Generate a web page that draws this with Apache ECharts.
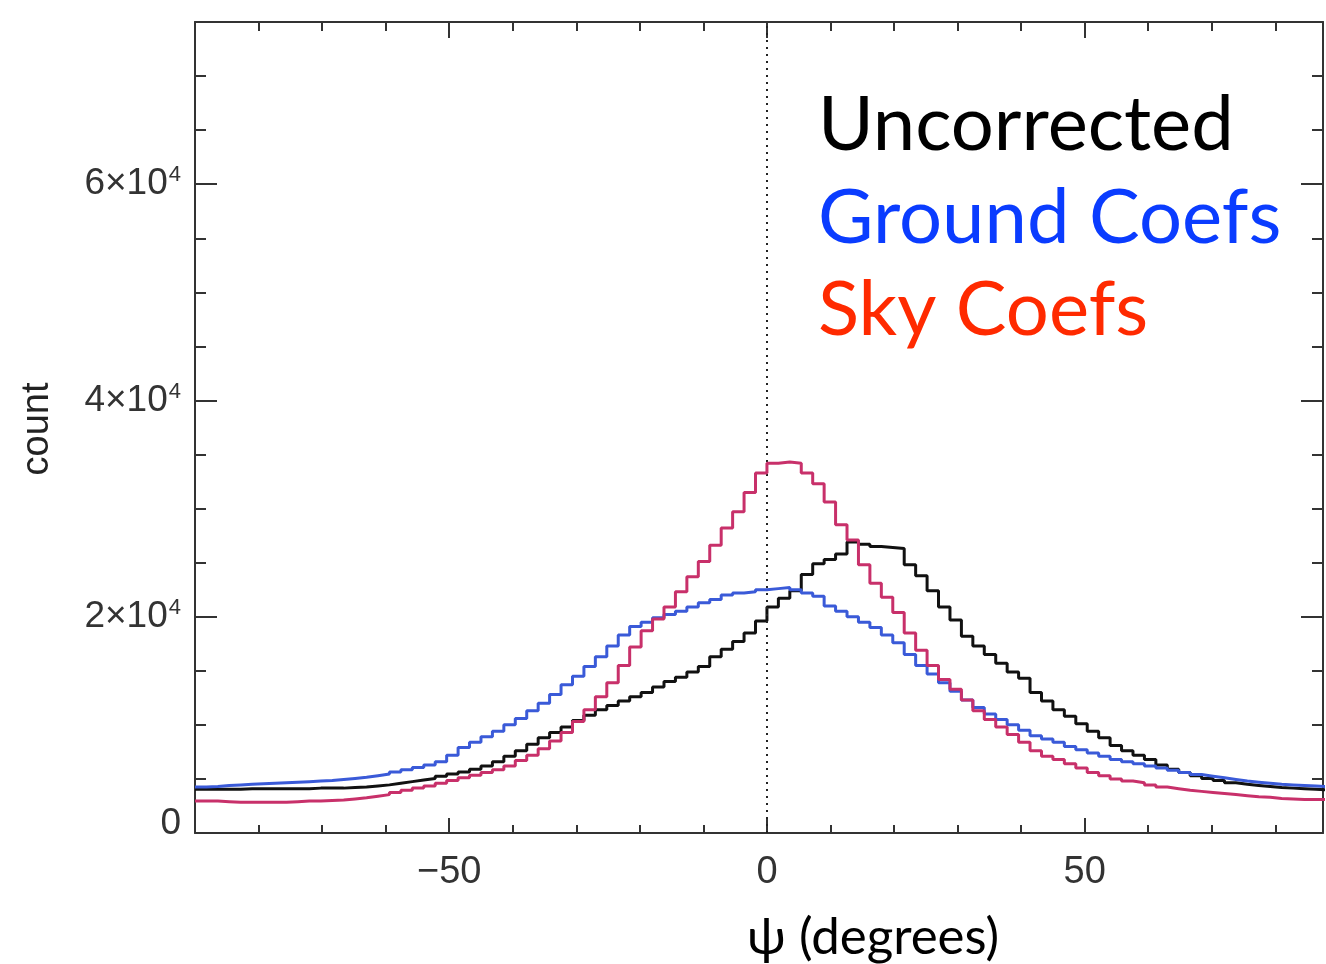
<!DOCTYPE html>
<html>
<head>
<meta charset="utf-8">
<script src="https://cdn.jsdelivr.net/npm/echarts@6/dist/echarts.min.js"></script>
<style>
html,body{margin:0;padding:0;background:#fff;}
#chart{width:1326px;height:964px;}
</style>
</head>
<body>
<div id="chart"></div>
<script>
// Histogram bins: 100 bins of 1.8 degrees from -90 to 90
const binStart = -90;
const binWidth = 1.8;

const uncorrected = [
  4050,4050,4050,4050,4100,4100,4100,4100,4100,4100,
  4150,4150,4150,4200,4250,4350,4450,4600,4750,4900,
  5050,5250,5450,5650,5900,6200,6600,7100,7600,8200,
  8800,9300,9800,10400,10900,11400,11800,12200,12600,13000,
  13500,14000,14400,14900,15400,16300,17000,17700,18500,19600,
  20900,21700,22400,23900,24900,25300,25800,26900,26700,26500,
  26400,26300,24800,23800,22400,20900,19700,18200,17300,16500,
  15700,14900,14300,13000,12200,11400,10800,10100,9400,8800,
  8100,7600,7200,6800,6300,5900,5600,5300,5050,4850,
  4650,4500,4400,4300,4200,4150,4100,4050,4000,4000
];
const groundCoefs = [
  4250,4300,4400,4450,4500,4550,4600,4650,4700,4750,
  4800,4850,4950,5050,5150,5300,5450,5650,5850,6050,
  6300,6600,7200,7900,8400,8900,9400,10000,10600,11300,
  12000,12800,13700,14500,15400,16300,17300,18300,19100,19500,
  19900,20200,20500,20900,21300,21600,22000,22200,22300,22500,
  22600,22700,22500,22200,21900,21000,20500,20000,19500,19000,
  18300,17600,16500,15500,14700,13900,13100,12300,11600,11000,
  10500,10000,9500,9000,8700,8400,8000,7700,7400,7100,
  6800,6600,6400,6200,6000,5800,5600,5400,5250,5100,
  4950,4800,4700,4600,4500,4450,4400,4350,4300,4300
];
const skyCoefs = [
  2950,2950,2900,2850,2850,2850,2850,2850,2900,2950,
  2950,3000,3050,3150,3250,3400,3550,3750,3950,4150,
  4350,4600,4850,5100,5350,5600,5850,6200,6700,7200,
  7800,8500,9300,10300,11400,12600,13900,15500,17200,18700,
  19800,20900,22300,23700,25100,26600,28200,29700,31500,33300,
  34200,34300,34200,33300,32300,30600,28500,27100,24800,23100,
  21800,20400,18500,16900,15500,14200,13300,12300,11300,10500,
  9800,9100,8400,7600,7100,6800,6400,6000,5600,5300,
  5000,4800,4650,4450,4250,4100,3950,3850,3750,3650,
  3550,3450,3350,3300,3200,3150,3100,3100,3100,3100
];

const seriesNames = ['Uncorrected', 'Ground Coefs', 'Sky Coefs'];
const xMajorTicks = [-50, 0, 50];
const yMajorTicks = [0, 20000, 40000, 60000];
const xAxisTitle = 'ψ (degrees)';
const yAxisTitle = 'count';

function toSteps(values) {
  const pts = values.map((v, k) => [binStart + binWidth * k, v]);
  pts.push([binStart + binWidth * values.length, values[values.length - 1]]);
  return pts;
}

const XMIN = -90, XMAX = 87.5, YMIN = 0, YMAX = 75000;
const axisColor = '#333';
const labelFont = '"Liberation Sans", Arial, sans-serif';
const bigFont = '"Gill Sans", "Lato", sans-serif';

function xFmt(v) { return v < 0 ? '\u2212' + Math.abs(v) : String(v); }
function yFmt(v) { return v === 0 ? '{z|0}' : '{b|' + (v / 10000) + '×10}{s|4}'; }

const gridRect = { left: 195, right: 3, top: 22, bottom: 131 };

function xAxisMajor(pos, showLabel, len) {
  return {
    type: 'value', gridIndex: 0, position: pos, min: XMIN, max: XMAX,
    axisLine: { show: true, onZero: false, lineStyle: { color: axisColor, width: 2 } },
    axisTick: { show: true, inside: true, length: len, customValues: xMajorTicks, lineStyle: { color: axisColor, width: 2 } },
    axisLabel: { show: showLabel, customValues: xMajorTicks, formatter: xFmt, fontSize: 38, color: '#333', fontFamily: labelFont, margin: 21 },
    splitLine: { show: false }
  };
}
function xAxisMinor(pos, len) {
  return {
    type: 'value', gridIndex: 1, position: pos, min: XMIN, max: XMAX, interval: 10,
    axisLine: { show: false, onZero: false },
    axisTick: { show: true, inside: true, length: len, lineStyle: { color: axisColor, width: 2 } },
    axisLabel: { show: false },
    splitLine: { show: false }
  };
}
function yAxisMajor(pos, showLabel) {
  return {
    type: 'value', gridIndex: 0, position: pos, min: YMIN, max: YMAX,
    axisLine: { show: true, onZero: false, lineStyle: { color: axisColor, width: 2 } },
    axisTick: { show: true, inside: true, length: 22, customValues: yMajorTicks, lineStyle: { color: axisColor, width: 2 } },
    axisLabel: {
      show: showLabel, customValues: yMajorTicks, formatter: yFmt, margin: 14,
      rich: {
        b: { fontSize: 37, color: '#333', fontFamily: labelFont },
        z: { fontSize: 37, color: '#333', fontFamily: labelFont, padding: [0, 0, 18, 0] },
        s: { fontSize: 22, color: '#333', fontFamily: labelFont, verticalAlign: 'top', padding: [0, 0, 18, 1] }
      }
    },
    splitLine: { show: false }
  };
}
function yAxisMinor(pos) {
  return {
    type: 'value', gridIndex: 1, position: pos, min: YMIN, max: YMAX, interval: 5000,
    axisLine: { show: false, onZero: false },
    axisTick: { show: true, inside: true, length: 11, lineStyle: { color: axisColor, width: 2 } },
    axisLabel: { show: false },
    splitLine: { show: false }
  };
}

const chart = echarts.init(document.getElementById('chart'), null, { renderer: 'canvas' });

const lineColors = ['#111111', '#3a5ad8', '#c8306a'];
const values = [uncorrected, groundCoefs, skyCoefs];

const series = values.map((vals, i) => ({
  name: seriesNames[i],
  type: 'line',
  xAxisIndex: 0, yAxisIndex: 0,
  step: 'end',
  symbol: 'none',
  data: toSteps(vals),
  lineStyle: { color: lineColors[i], width: 3 },
  z: 3 + i,
  animation: false
}));
series[0].markLine = {
  silent: true, symbol: 'none', animation: false,
  label: { show: false },
  lineStyle: { color: '#222', type: [2, 5], width: 2 },
  data: [{ xAxis: 0 }]
};

chart.setOption({
  animation: false,
  backgroundColor: '#fff',
  grid: [
    Object.assign({}, gridRect),
    Object.assign({}, gridRect)
  ],
  xAxis: [
    xAxisMajor('bottom', true, 15),
    xAxisMajor('top', false, 16),
    xAxisMinor('bottom', 8),
    xAxisMinor('top', 9)
  ],
  yAxis: [
    yAxisMajor('left', true),
    yAxisMajor('right', false),
    yAxisMinor('left'),
    yAxisMinor('right')
  ],
  series: series,
  graphic: [
    { type: 'text', x: 38, y: 429, rotation: Math.PI / 2,
      style: { text: yAxisTitle, fontSize: 38, fontFamily: labelFont, fill: '#222', align: 'center', verticalAlign: 'middle' } },
    { type: 'text', x: 747, y: 938,
      style: { text: xAxisTitle, fontSize: 51, fontFamily: bigFont, fill: '#000', align: 'left', verticalAlign: 'middle' } },
    { type: 'text', x: 818, y: 125,
      style: { text: seriesNames[0], fontSize: 76, fontFamily: bigFont, fill: '#000', align: 'left', verticalAlign: 'middle' } },
    { type: 'text', x: 818, y: 218,
      style: { text: seriesNames[1], fontSize: 76, fontFamily: bigFont, fill: '#0a3cff', align: 'left', verticalAlign: 'middle' } },
    { type: 'text', x: 818, y: 310,
      style: { text: seriesNames[2], fontSize: 76, fontFamily: bigFont, fill: '#ff2a00', align: 'left', verticalAlign: 'middle' } }
  ]
});
</script>
</body>
</html>
